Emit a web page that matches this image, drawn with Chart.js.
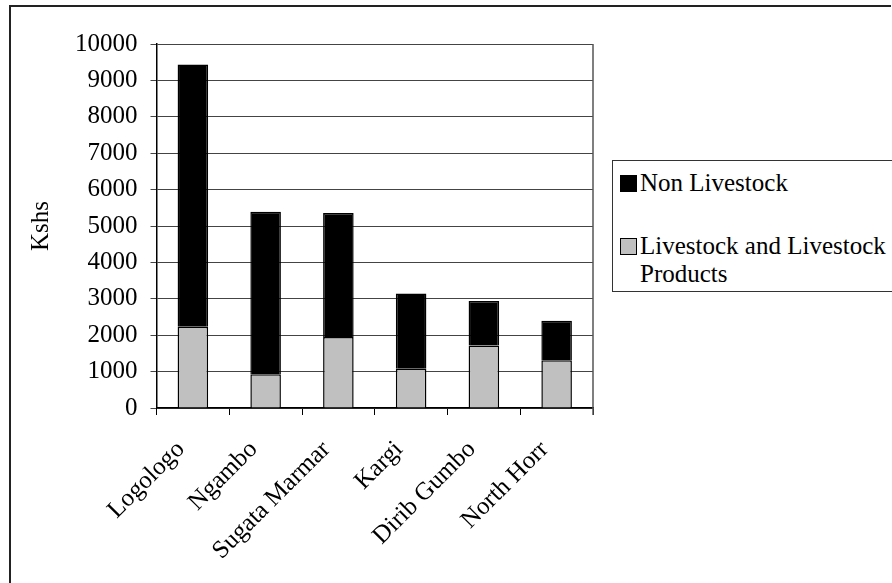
<!DOCTYPE html>
<html>
<head>
<meta charset="utf-8">
<script src="https://cdn.jsdelivr.net/npm/chart.js@4"></script>
<style>
  html, body { margin: 0; padding: 0; background: #fff; }
  #wrap { position: relative; width: 892px; height: 583px; }
  #legend {
    position: absolute; left: 612px; top: 160px; width: 290px; height: 132px;
    border: 1px solid #333; box-sizing: border-box; background: #fff;
    font-family: 'Liberation Serif', 'Times New Roman', serif; font-size: 25px; color: #000;
  }
  .item { position: absolute; left: 7px; display: flex; align-items: flex-start; line-height: 28px; }
  .sw { width: 15px; height: 15px; border: 1px solid #000; margin-top: 6px; margin-right: 3px; flex: none; }
</style>
</head>
<body>
<div id="wrap">
  <canvas id="myChart" width="892" height="583"></canvas>
  <div id="legend"></div>
</div>
<script>
// data (Kshs)
var sites = ['Logologo', 'Ngambo', 'Sugata Marmar', 'Kargi', 'Dirib Gumbo', 'North Horr'];
var livestock = [2230, 930, 1950, 1080, 1720, 1310];
var nonLivestock = [7210, 4460, 3410, 2065, 1220, 1090];
var yTicks = [0, 1000, 2000, 3000, 4000, 5000, 6000, 7000, 8000, 9000, 10000];

var serif = "'Liberation Serif', 'Times New Roman', serif";

// outer frame + right edge of plot area
var framePlugin = {
  id: 'frame',
  afterDraw: function(chart) {
    var ctx = chart.ctx;
    var a = chart.chartArea;
    ctx.save();
    ctx.strokeStyle = '#222';
    ctx.lineWidth = 2;
    ctx.beginPath();
    ctx.moveTo(10, 600);
    ctx.lineTo(10, 6);
    ctx.lineTo(891, 6);
    ctx.stroke();
    ctx.strokeStyle = '#555';
    ctx.lineWidth = 1.5;
    ctx.beginPath();
    ctx.moveTo(a.right, a.top);
    ctx.lineTo(a.right, a.bottom + 7);
    ctx.stroke();
    ctx.restore();
  }
};

var chart = new Chart(document.getElementById('myChart'), {
  type: 'bar',
  data: {
    labels: sites,
    datasets: [{
      label: 'Livestock and Livestock Products',
      data: livestock,
      backgroundColor: '#c0c0c0',
      borderColor: '#000',
      borderWidth: 1.5,
      barPercentage: 0.42,
      categoryPercentage: 1
    }, {
      label: 'Non Livestock',
      data: nonLivestock,
      backgroundColor: '#000',
      borderColor: '#000',
      borderWidth: 1.5,
      barPercentage: 0.42,
      categoryPercentage: 1
    }]
  },
  options: {
    responsive: false,
    animation: false,
    layout: { padding: { left: 26, right: 299, top: 44, bottom: 0 } },
    plugins: {
      legend: { display: false },
      tooltip: { enabled: false }
    },
    scales: {
      x: {
        stacked: true,
        afterFit: function(s) { s.height = 175; },
        grid: { drawOnChartArea: false, drawTicks: true, tickLength: 7, color: '#000', offset: true },
        border: { color: '#000', width: 1.5 },
        ticks: {
          color: '#000', font: { family: serif, size: 25 },
          minRotation: 45, maxRotation: 45, padding: 20, labelOffset: -12
        }
      },
      y: {
        stacked: true,
        min: 0, max: 10000,
        afterBuildTicks: function(s) { s.ticks = yTicks.map(function(v) { return { value: v }; }); },
        grid: { color: '#444', lineWidth: 1, tickLength: 6 },
        border: { color: '#000', width: 1.5 },
        ticks: {
          color: '#000', font: { family: serif, size: 25 }, padding: 13,
          callback: function(v) { return String(v); }
        },
        title: {
          display: true, text: 'Kshs', color: '#000',
          font: { family: serif, size: 25 }, padding: { top: 0, bottom: 6 }
        }
      }
    }
  },
  plugins: [framePlugin]
});

// legend box, Non Livestock listed first as in the original
var legend = document.getElementById('legend');
var order = [1, 0];
var tops = [8, 71];
order.forEach(function(di, k) {
  var ds = chart.data.datasets[di];
  var item = document.createElement('div');
  item.className = 'item';
  item.style.top = tops[k] + 'px';
  var sw = document.createElement('span');
  sw.className = 'sw';
  sw.style.background = ds.backgroundColor;
  var txt = document.createElement('span');
  txt.textContent = ds.label;
  txt.style.width = '270px';
  item.appendChild(sw);
  item.appendChild(txt);
  legend.appendChild(item);
});
</script>
</body>
</html>
